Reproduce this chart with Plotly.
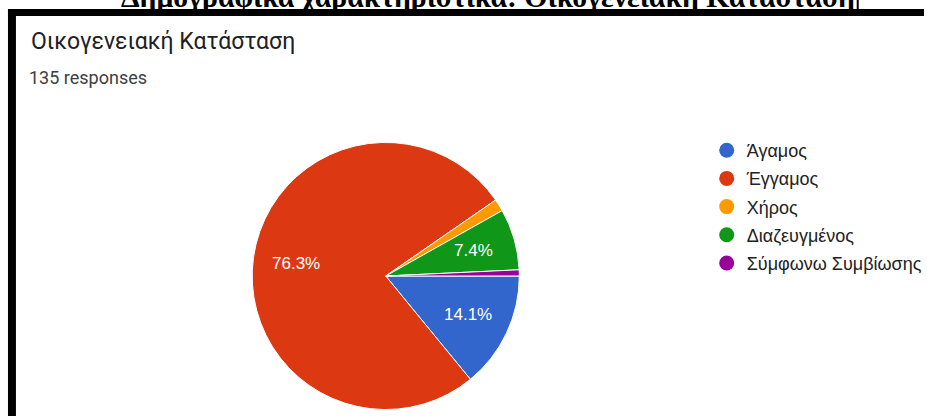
import math
import plotly.graph_objects as go

W, H = 927, 416

# Survey answers: marital status (135 responses)
categories = ["Άγαμος", "Έγγαμος", "Χήρος", "Διαζευγμένος", "Σύμφωνω Συμβίωσης"]
counts = [19, 103, 2, 10, 1]
colors = ["#3366cc", "#dc3912", "#ff9900", "#109618", "#990099"]
total = sum(counts)


def px(x):
    return x / W


def py(y):
    return 1 - y / H


# Pie placement (pixels) and start angle (degrees clockwise from 12 o'clock)
pie_x = (253, 521)
pie_y = (142, 410)
start_deg = 90
cx, cy = sum(pie_x) / 2, sum(pie_y) / 2
radius = (pie_x[1] - pie_x[0]) / 2

fig = go.Figure()
fig.add_trace(go.Pie(
    labels=categories,
    values=counts,
    sort=False,
    direction="clockwise",
    rotation=start_deg,
    marker=dict(colors=colors, line=dict(color="white", width=1)),
    textinfo="none",
    showlegend=False,
    hoverinfo="label+percent",
    domain=dict(x=[px(pie_x[0]), px(pie_x[1])], y=[py(pie_y[1]), py(pie_y[0])]),
))

# Circular legend markers, one entry per category
for i, (name, col) in enumerate(zip(categories, colors)):
    fig.add_trace(go.Scatter(
        x=[None], y=[None], mode="markers", name=name,
        marker=dict(symbol="circle", size=15, color=col),
        legendgroup=f"g{i}", showlegend=True,
    ))

# Percentage labels placed along each slice's middle angle
annotations = []
acc = 0
for c in counts:
    share = c / total
    mid = math.radians(start_deg + 360 * (acc + share / 2))
    acc += share
    if share < 0.05:
        continue
    lx = cx + 0.68 * radius * math.sin(mid)
    ly = cy - 0.68 * radius * math.cos(mid)
    annotations.append(dict(
        text=f"{share * 100:.1f}%", x=px(lx), y=py(ly),
        xref="paper", yref="paper", xanchor="center", yanchor="middle",
        showarrow=False,
        font=dict(family="Liberation Sans, Arial, sans-serif", size=17, color="white"),
    ))

annotations += [
    dict(text="<b>Δημογραφικά χαρακτηριστικά: Οικογενειακή Κατάσταση</b>",
         x=px(490), y=py(15), xref="paper", yref="paper",
         xanchor="center", yanchor="bottom", showarrow=False,
         font=dict(family="Liberation Serif, Times New Roman, serif", size=29.7, color="black")),
    dict(text="Οικογενειακή Κατάσταση",
         x=px(29), y=py(42), xref="paper", yref="paper",
         xanchor="left", yanchor="middle", showarrow=False,
         font=dict(family="Roboto, sans-serif", size=23, color="#202124")),
    dict(text=f"{total} responses",
         x=px(27), y=py(77), xref="paper", yref="paper",
         xanchor="left", yanchor="middle", showarrow=False,
         font=dict(family="Roboto, sans-serif", size=18, color="#3c4043")),
]

fig.update_layout(
    width=W, height=H,
    margin=dict(l=0, r=0, t=0, b=0),
    paper_bgcolor="white",
    plot_bgcolor="white",
    xaxis=dict(visible=False),
    yaxis=dict(visible=False),
    showlegend=True,
    legend=dict(
        x=px(709), y=py(132), xanchor="left", yanchor="top",
        font=dict(family="Liberation Sans, Arial, sans-serif", size=18, color="#222222"),
        traceorder="grouped", tracegroupgap=1.8,
        itemwidth=30, bgcolor="rgba(0,0,0,0)",
    ),
    annotations=annotations,
    shapes=[
        # frame: thick black top band and left band
        dict(type="rect", xref="paper", yref="paper",
             x0=px(8), x1=1, y0=py(16), y1=py(9),
             fillcolor="black", line=dict(width=0), layer="above"),
        dict(type="rect", xref="paper", yref="paper",
             x0=px(8), x1=px(16), y0=0, y1=py(9),
             fillcolor="black", line=dict(width=0), layer="above"),
        # table cell divider above the band
        dict(type="rect", xref="paper", yref="paper",
             x0=px(859.5), x1=px(861.5), y0=py(9), y1=1,
             fillcolor="black", line=dict(width=0), layer="above"),
    ],
)

fig.write_html("out.html")
